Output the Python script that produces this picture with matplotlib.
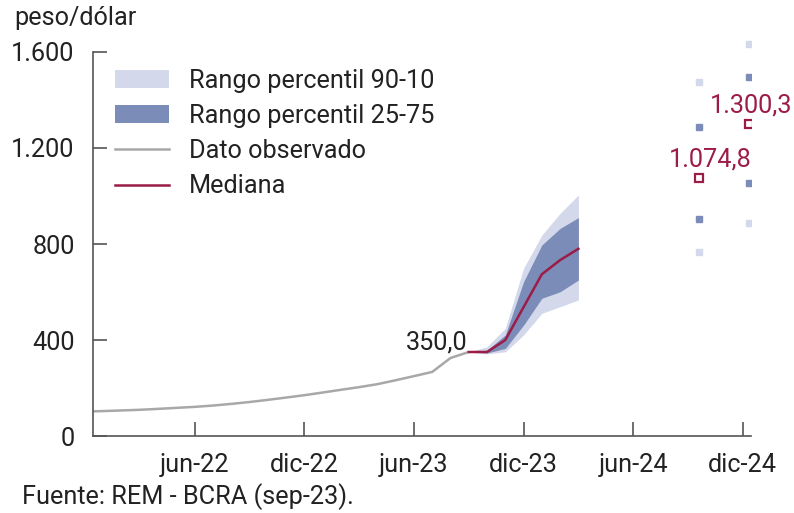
import numpy as np
import matplotlib
matplotlib.use("Agg")
import matplotlib.pyplot as plt
from matplotlib.patches import Patch
from matplotlib.lines import Line2D

plt.rcParams['font.family'] = ['Roboto', 'DejaVu Sans']

# months counted from jan-22 (0 = jan-22)
obs_month = np.arange(-1, 21)
obs_value = [101.7, 103.9, 106.5, 109.2, 113.1, 117.2, 121.4, 126.9, 133.8, 141.6,
             150.6, 160.1, 170.0, 181.1, 192.5, 203.6, 216.0, 232.3, 249.5, 267.0,
             325.0, 350.0]

fan_month = np.arange(20, 27)  # sep-23 .. mar-24
median = [350, 350, 400, 537, 674, 733, 780]
p25 = [350, 346, 365, 462, 574, 601, 650]
p75 = [350, 358, 421, 643, 796, 865, 910]
p10 = [350, 342, 351, 421, 511, 539, 567]
p90 = [350, 372, 449, 699, 837, 928, 1004]

# yearly expectations (12 months ahead and dec-24)
yr_month = [32.6, 35.35]
yr_median = [1074.8, 1300.3]
yr_label = ["1.074,8", "1.300,3"]
yr_p10 = [768, 886]
yr_p25 = [904, 1053]
yr_p75 = [1289, 1497]
yr_p90 = [1476, 1633]

tick_month = [5, 11, 17, 23, 29, 35]
tick_label = ["jun-22", "dic-22", "jun-23", "dic-23", "jun-24", "dic-24"]
ytick_val = [0, 400, 800, 1200, 1600]
ytick_label = ["0", "400", "800", "1.200", "1.600"]

light = "#d3d8ea"
dark = "#7b8cb8"
red = "#9c1c48"
gray = "#a8a8a8"
axcol = "#555555"
txt = "#222222"
fs = 18.2

fig = plt.figure(figsize=(7.94, 5.13), dpi=100)
ax = fig.add_axes([93.3 / 794, 77 / 513, (750.7 - 93.3) / 794, (436 - 32.8) / 513])

ax.fill_between(fan_month, p10, p90, color=light, lw=0)
ax.fill_between(fan_month, p25, p75, color=dark, lw=0)
ax.plot(obs_month, obs_value, color=gray, lw=1.8, solid_capstyle='butt')
ax.plot(fan_month, median, color=red, lw=1.8)

ax.plot(yr_month, yr_p10, ls='none', marker='s', ms=5, color=light)
ax.plot(yr_month, yr_p90, ls='none', marker='s', ms=5, color=light)
ax.plot(yr_month, yr_p25, ls='none', marker='s', ms=5, color=dark)
ax.plot(yr_month, yr_p75, ls='none', marker='s', ms=5, color=dark)
ax.plot(yr_month, yr_median, ls='none', marker='s', ms=5.5, mfc='white',
        mec=red, mew=1.6)

ax.text(fan_month[0] - 0.05, median[0] + 10, "350,0", ha='right', va='baseline',
        fontsize=fs, color=txt)
for m, v, lab, dx in zip(yr_month, yr_median, yr_label, [8, 1]):
    ax.annotate(lab, (m, v), xytext=(dx, 8), textcoords='offset points',
                ha='center', va='baseline', fontsize=fs, color=red)

ax.set_xlim(-0.55, 35.43)
ax.set_ylim(0, 1680)
ax.set_xticks(tick_month)
ax.set_xticklabels(tick_label)
ax.set_yticks(ytick_val)
ax.set_yticklabels(ytick_label)
ax.tick_params(axis='both', direction='in', length=10, width=1.2, colors=axcol,
               labelcolor=txt, labelsize=fs)
ax.tick_params(axis='x', pad=12)
ax.tick_params(axis='y', pad=13.5)

for s in ['top', 'right']:
    ax.spines[s].set_visible(False)
for s in ['left', 'bottom']:
    ax.spines[s].set_color(axcol)
    ax.spines[s].set_linewidth(1.2)
ax.spines['left'].set_bounds(0, 1600)

handles = [Patch(color=light, lw=0), Patch(color=dark, lw=0),
           Line2D([], [], color=gray, lw=1.8), Line2D([], [], color=red, lw=1.8)]
labels = ["Rango percentil 90-10", "Rango percentil 25-75", "Dato observado", "Mediana"]
fig.legend(handles, labels, loc='upper left', bbox_to_anchor=(115 / 794, 1 - 69 / 513),
           frameon=False, fontsize=fs, handlelength=2.15, handletextpad=0.78,
           labelspacing=0.44, borderpad=0, borderaxespad=0, labelcolor=txt)

fig.text(14 / 794, 1 - 18 / 513, "peso/dólar", ha='left', va='center', fontsize=fs,
         color=txt)
fig.text(22 / 794, 1 - 497 / 513, "Fuente: REM - BCRA (sep-23).", ha='left',
         va='center', fontsize=fs, color=txt)

fig.savefig("out.png", dpi=100)
